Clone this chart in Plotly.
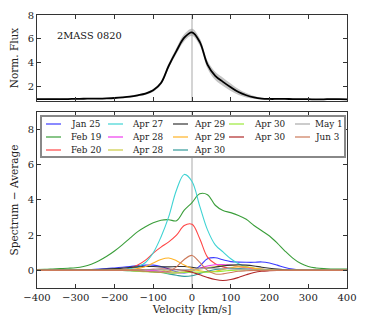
import plotly.graph_objects as go

# velocity grid [km/s]
velocity = [-400, -380, -360, -340, -320, -300, -280, -260, -240, -220, -200,
            -180, -160, -140, -120, -100, -80, -60, -40, -20, 0,
            20, 40, 60, 80, 100, 120, 140, 160, 180, 200,
            220, 240, 260, 280, 300, 320, 340, 360, 380, 400]

# top panel: average normalised flux and its scatter
avg_flux = [0.95, 0.95, 0.96, 0.95, 0.96, 0.98, 0.99, 1.0, 1.0, 1.02,
            1.05, 1.1, 1.17, 1.28, 1.42, 1.7, 2.3, 3.75, 5.0, 6.1,
            6.55, 5.75, 3.85, 2.9, 2.4, 1.95, 1.55, 1.28, 1.1, 1.0,
            0.97, 0.97, 0.97, 0.96, 0.95, 0.95, 0.93, 0.94, 0.96, 0.95, 0.94]
avg_err = [0.04, 0.04, 0.04, 0.04, 0.04, 0.04, 0.04, 0.04, 0.05, 0.05,
           0.05, 0.06, 0.07, 0.08, 0.1, 0.12, 0.15, 0.2, 0.25, 0.3,
           0.3, 0.3, 0.32, 0.35, 0.35, 0.32, 0.25, 0.18, 0.12, 0.08,
           0.06, 0.05, 0.05, 0.05, 0.04, 0.04, 0.04, 0.04, 0.04, 0.04, 0.04]

# bottom panel: spectrum minus average, one list per epoch
jan25 = [0.02, 0.02, 0.03, 0.03, 0.03, 0.03, 0.04, 0.05, 0.07, 0.1,
         0.14, 0.18, 0.22, 0.27, 0.3, 0.3, 0.22, 0.08, -0.08, -0.15,
         -0.05, 0.25, 0.66, 0.72, 0.6, 0.5, 0.47, 0.46, 0.46, 0.48,
         0.42, 0.3, 0.16, 0.07, 0.03, 0.02, 0.02, 0.01, 0.01, 0.01, 0.01]
feb19 = [0.05, 0.06, 0.08, 0.1, 0.12, 0.15, 0.22, 0.35, 0.55, 0.8,
         1.1, 1.45, 1.83, 2.2, 2.48, 2.7, 2.85, 2.88, 2.82, 3.42,
         3.85, 4.35, 4.3, 3.7, 3.4, 3.28, 3.12, 2.9, 2.55, 2.25,
         1.95, 1.55, 1.1, 0.7, 0.4, 0.22, 0.14, 0.1, 0.08, 0.07, 0.07]
feb20 = [0.01, 0.01, 0.01, 0.01, 0.01, 0.02, 0.02, 0.02, 0.03, 0.03,
         0.04, 0.06, 0.13, 0.3, 0.58, 0.98, 1.32, 1.62, 2.0, 2.55,
         2.62, 1.8, 0.75, 0.38, 0.2, 0.12, 0.08, 0.06, 0.05, 0.04,
         0.03, 0.03, 0.02, 0.02, 0.02, 0.01, 0.01, 0.01, 0.01, 0.01, 0.01]
apr27 = [0, 0, 0, 0, 0, 0, 0, 0, 0.01, 0.02,
         0.03, 0.05, 0.1, 0.2, 0.45, 1.0, 1.9, 3.05, 4.57, 5.45,
         5.05, 3.65, 2.3, 1.45, 1.05, 0.66, 0.38, 0.2, 0.1, 0.06,
         0.04, 0.03, 0.02, 0.02, 0.01, 0.01, 0, 0, 0, 0, 0]
apr28a = [0, 0, 0, 0, 0, 0, 0, 0, 0, 0,
          0, 0, 0.02, 0.03, 0.02, 0, -0.05, -0.12, -0.15, -0.1,
          0.0, 0.12, 0.25, 0.32, 0.33, 0.3, 0.22, 0.15, 0.1, 0.06,
          0.03, 0.02, 0.01, 0, 0, 0, 0, 0, 0, 0, 0]
apr28b = [0, 0, 0, 0, 0, 0, 0, 0, 0, 0,
          0, 0.01, 0.02, 0.03, 0.05, 0.05, 0.02, -0.05, -0.1, -0.08,
          0.0, 0.08, 0.15, 0.22, 0.28, 0.28, 0.25, 0.2, 0.14, 0.08,
          0.04, 0.02, 0.01, 0, 0, 0, 0, 0, 0, 0, 0]
apr29a = [0, 0, 0, 0, 0, 0.01, 0.02, 0.03, 0.05, 0.07,
          0.1, 0.13, 0.17, 0.2, 0.22, 0.22, 0.2, 0.2, 0.22, 0.22,
          0.18, 0.12, 0.12, 0.18, 0.25, 0.3, 0.32, 0.3, 0.25, 0.18,
          0.12, 0.07, 0.04, 0.02, 0.01, 0, 0, 0, 0, 0, 0]
apr29b = [0, 0, 0, 0, 0, 0, 0, 0, 0, 0.01,
          0.02, 0.03, 0.05, 0.1, 0.22, 0.42, 0.62, 0.7, 0.55, 0.3,
          0.1, -0.02, -0.08, -0.05, 0.05, 0.15, 0.2, 0.18, 0.12, 0.06,
          0.03, 0.01, 0, 0, 0, 0, 0, 0, 0, 0, 0]
apr30a = [0, 0, 0, 0, 0, 0, 0, 0, 0, 0,
          0, 0, -0.02, -0.04, -0.06, -0.08, -0.12, -0.2, -0.28, -0.34,
          -0.3, -0.18, -0.05, 0.05, 0.1, 0.12, 0.1, 0.07, 0.04, 0.02,
          0.01, 0, 0, 0, 0, 0, 0, 0, 0, 0, 0]
apr30b = [0, 0, 0, 0, 0, 0, 0, 0, 0, 0,
          0, 0, -0.02, -0.05, -0.08, -0.1, -0.12, -0.15, -0.15, -0.12,
          -0.1, -0.1, -0.1, -0.08, -0.04, 0.0, 0.03, 0.04, 0.03, 0.02,
          0.01, 0, 0, 0, 0, 0, 0, 0, 0, 0, 0]
apr30c = [0, 0, 0, 0, 0, 0, 0, 0, 0, 0,
          0, 0, 0.01, 0.02, 0.04, 0.06, 0.08, 0.08, 0.05, 0.0,
          -0.1, -0.25, -0.4, -0.52, -0.57, -0.52, -0.4, -0.25, -0.12, -0.05,
          -0.02, 0, 0, 0, 0, 0, 0, 0, 0, 0, 0]
may1 = [0, 0, 0, 0, 0, 0, 0, 0, 0, 0,
        0, 0, 0.01, 0.02, 0.03, 0.04, 0.04, 0.03, 0.02, 0.03,
        0.06, 0.1, 0.12, 0.12, 0.1, 0.08, 0.06, 0.04, 0.03, 0.02,
        0.01, 0, 0, 0, 0, 0, 0, 0, 0, 0, 0]
jun3 = [0, 0, 0, 0, 0, 0, 0, 0, 0, 0,
        0, 0, 0, -0.02, -0.05, -0.08, -0.1, -0.05, 0.2, 0.62,
        0.85, 0.45, 0.0, -0.2, -0.2, -0.12, -0.05, -0.02, 0, 0,
        0, 0, 0, 0, 0, 0, 0, 0, 0, 0, 0]

labels = ["Jan 25", "Feb 19", "Feb 20", "Apr 27", "Apr 28", "Apr 28", "Apr 29",
          "Apr 29", "Apr 30", "Apr 30", "Apr 30", "May 1", "Jun 3"]
series = [jan25, feb19, feb20, apr27, apr28a, apr28b, apr29a,
          apr29b, apr30a, apr30b, apr30c, may1, jun3]
colors = ["#3b3bff", "#3a9e3a", "#ff4646", "#3fd3d3", "#ee3cee", "#cccc44", "#333333",
          "#ffb326", "#339a9a", "#9bea3a", "#b02828", "#aaaaaa", "#cc7a5a"]

FONT = "DejaVu Serif"

fig = go.Figure()

# top panel: scatter band + mean
upper = [f + e for f, e in zip(avg_flux, avg_err)]
lower = [f - e for f, e in zip(avg_flux, avg_err)]
fig.add_trace(go.Scatter(x=velocity, y=upper, mode="lines", line=dict(width=0, shape="spline"),
                         xaxis="x2", yaxis="y2", showlegend=False, hoverinfo="skip"))
fig.add_trace(go.Scatter(x=velocity, y=lower, mode="lines", line=dict(width=0, shape="spline"),
                         fill="tonexty", fillcolor="rgba(150,150,150,0.55)",
                         xaxis="x2", yaxis="y2", showlegend=False, hoverinfo="skip"))
fig.add_trace(go.Scatter(x=velocity, y=avg_flux, mode="lines",
                         line=dict(color="black", width=1.8, shape="spline"),
                         xaxis="x2", yaxis="y2", showlegend=False))

# bottom panel: residuals
for lab, ys, col in zip(labels, series, colors):
    fig.add_trace(go.Scatter(x=velocity, y=ys, mode="lines", name=lab,
                             line=dict(color=col, width=1.1, shape="spline"),
                             xaxis="x", yaxis="y", showlegend=False))

# legend box (5 columns, filled column by column: 3,3,3,2,2 entries)
# page body has an 8px margin, so the figure is drawn 8px smaller and the
# pixel helpers below work in window pixels
px0, px1, py0, py1 = 37, 347, 15, 288


def paper_x(px):
    return (px - px0) / (px1 - px0)


def paper_y(py):
    return (py1 - py) / (py1 - py0)


fig.add_shape(type="rect", xref="paper", yref="paper",
              x0=paper_x(41), x1=paper_x(345), y0=paper_y(157), y1=paper_y(116),
              line=dict(color="#888888", width=2), fillcolor="white", layer="above")
line_x = [46, 108, 173, 229, 295]
text_x = [69, 130, 192, 252, 313]
row_y = [124, 137, 150]
col_sizes = [3, 3, 3, 2, 2]
slots = [(c, r) for c, n in enumerate(col_sizes) for r in range(n)]
for (c, r), lab, col in zip(slots, labels, colors):
    fig.add_shape(type="line", xref="paper", yref="paper",
                  x0=paper_x(line_x[c]), x1=paper_x(line_x[c] + 15),
                  y0=paper_y(row_y[r]), y1=paper_y(row_y[r]),
                  line=dict(color=col, width=1.2), layer="above")
    fig.add_annotation(text=lab, xref="paper", yref="paper",
                       x=paper_x(text_x[c]), y=paper_y(row_y[r]),
                       xanchor="left", yanchor="middle", showarrow=False,
                       font=dict(family=FONT, size=8.8, color="#222"))

fig.add_annotation(text="2MASS 0820", xref="paper", yref="paper",
                   x=paper_x(55), y=paper_y(36), xanchor="left", yanchor="middle",
                   showarrow=False, font=dict(family=FONT, size=9.8, color="#111"))

axis_common = dict(showline=True, linecolor="#333333", linewidth=1, mirror="ticks",
                   ticks="inside", ticklen=4, tickcolor="#333333", showgrid=False,
                   automargin=False,
                   tickfont=dict(family=FONT, size=10, color="#222"))

fig.update_layout(
    width=358, height=312,
    margin=dict(l=29, r=19, t=7, b=32),
    paper_bgcolor="white", plot_bgcolor="white",
    showlegend=False,
    font=dict(family=FONT, size=10, color="#222"),
    xaxis=dict(domain=[0, 1], anchor="y", range=[-400, 400], tickvals=[-400, -300, -200, -100, 0, 100, 200, 300, 400],
               zeroline=True, zerolinecolor="#d4d4d4", zerolinewidth=2,
               title=dict(text="Velocity [km/s]", font=dict(family=FONT, size=10.5), standoff=2),
               **axis_common),
    yaxis=dict(domain=[0, 0.645], anchor="x", range=[-1, 9], tickvals=[0, 2, 4, 6, 8], zeroline=False,
               title=dict(text="Spectrum − Average", font=dict(family=FONT, size=10.5), standoff=6),
               **axis_common),
    xaxis2=dict(domain=[0, 1], anchor="y2", matches="x", range=[-400, 400],
                tickvals=[-400, -300, -200, -100, 0, 100, 200, 300, 400], showticklabels=False,
                zeroline=True, zerolinecolor="#d4d4d4", zerolinewidth=2, **axis_common),
    yaxis2=dict(domain=[0.685, 1], anchor="x2", range=[0.8, 8], tickvals=[2, 4, 6, 8], zeroline=False,
                title=dict(text="Norm. Flux", font=dict(family=FONT, size=10.5), standoff=6),
                **axis_common),
)

fig.write_html("out.html")
